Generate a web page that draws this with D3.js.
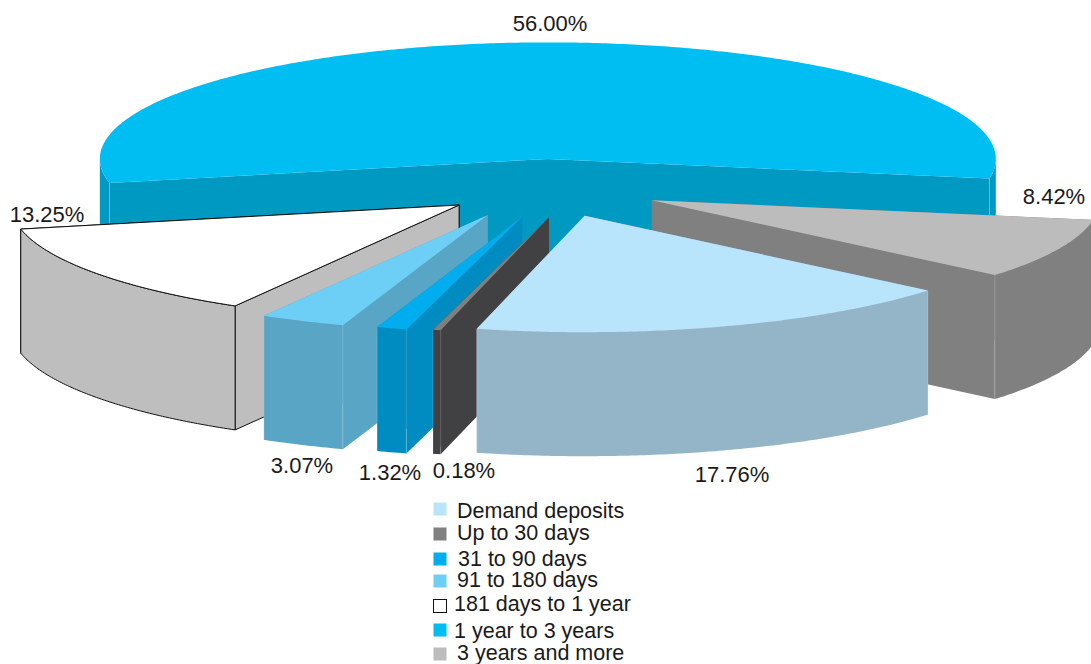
<!DOCTYPE html>
<html><head><meta charset="utf-8">
<script src="https://cdn.jsdelivr.net/npm/d3@7/dist/d3.min.js"></script>
<style>html,body{margin:0;padding:0;background:#fff}svg{display:block}text{font-family:"Liberation Sans",Arial,sans-serif;fill:#1a1a1a}</style>
</head><body><svg id="c" width="1091" height="664"></svg>
<script>
const categories = ["Demand deposits","Up to 30 days","31 to 90 days","91 to 180 days","181 days to 1 year","1 year to 3 years","3 years and more"];
const values = [17.76,0.18,1.32,3.07,13.25,56.00,8.42];
const topColors = ["#b8e5fb","#808080","#00aeef","#6dcff6","#ffffff","#00bdf2","#bcbcbc"];
const sideColors = ["#94b5c8","#414042","#008cc0","#58a5c6","#bebebe","#0099c2","#808080"];
const paintOrder = [5,6,4,3,2,1,0];
const labelPos = [[732,474],[464,470],[390,472],[302,465],[47,214],[550,23],[1054,196]];
const legendRows = [[440,509,457,511],[440,534,457,533],[440,559,458,559],[440,581,457,580],[440,606,454,604],[440,630,454,631],[440,654,457,653]];
// the small wedges of the original were pulled out by hand: extra apex shift (px) and edge trim (degrees)
const apexNudge = [[0,0],[26.6,1],[5,1],[-15,0.5],[0,0],[0,0],[0,0]];
const edgeTrim = [[0,0],[0.06,0.42],[0.42,-0.44],[-0.44,-0.39],[-0.39,0],[0,0],[0,0]];

const cx=550, cy=188, rx=448, ry=116.5, depth=124, explode=0.25, labelSize=22, legendSize=21.5;
const svg=d3.select("#c");
const pie=d3.pie().sort(null).startAngle(130*Math.PI/180).endAngle(490*Math.PI/180);
const arcs=pie(values);
const line=d3.line();
const rad=Math.PI/180;

arcs.forEach((d,i)=>{
  const mid=(d.startAngle+d.endAngle)/2;
  d.ax=cx+explode*rx*Math.sin(mid)+apexNudge[i][0];
  d.ay=cy-explode*ry*Math.cos(mid)+apexNudge[i][1];
  d.a0=d.startAngle+edgeTrim[i][0]*rad;
  d.a1=d.endAngle+edgeTrim[i][1]*rad;
  d.pt=(t,z=0)=>[d.ax+rx*Math.sin(t), d.ay-ry*Math.cos(t)+z];
});
function samples(a,b){const n=Math.max(2,Math.ceil((b-a)/0.01));return d3.range(n+1).map(k=>a+(b-a)*k/n);}
function frontRanges(a,b){
  const out=[];
  for(let k=-1;k<=2;k++){
    const lo=Math.max(a,Math.PI/2+2*Math.PI*k), hi=Math.min(b,3*Math.PI/2+2*Math.PI*k);
    if(hi>lo) out.push([lo,hi]);
  }
  return out;
}
function ccw(p){return d3.polygonArea(p)<0?p.slice().reverse():p;}
paintOrder.forEach(i=>{
  const d=arcs[i], g=svg.append("g");
  const isOutlined=topColors[i]==="#ffffff";
  const stroke=isOutlined?"#111":"none", sw=isOutlined?1:0;
  const apex=[d.ax,d.ay], apexB=[d.ax,d.ay+depth];
  const wall=t=>ccw([apex,d.pt(t),d.pt(t,depth),apexB]);
  if(isOutlined){
    [d.a1,d.a0].forEach(t=>{
      g.append("path").attr("d",line(wall(t))+"Z")
       .attr("fill",sideColors[i]).attr("stroke",stroke).attr("stroke-width",sw).attr("stroke-linejoin","round");
    });
  } else {
    g.append("path").attr("d",line(wall(d.a1))+"Z"+line(wall(d.a0))+"Z")
     .attr("fill",sideColors[i]);
  }
  frontRanges(d.a0,d.a1).forEach(([a,b])=>{
    const s=samples(a,b);
    const poly=s.map(t=>d.pt(t)).concat(s.slice().reverse().map(t=>d.pt(t,depth)));
    g.append("path").attr("d",line(poly)+"Z")
     .attr("fill",sideColors[i]).attr("stroke",stroke).attr("stroke-width",sw).attr("stroke-linejoin","round");
  });
  if(!isOutlined){
    [d.a0,d.a1].forEach(t=>{
      const tt=((t%(2*Math.PI))+2*Math.PI)%(2*Math.PI);
      if(tt>Math.PI/2&&tt<3*Math.PI/2){
        g.append("path").attr("d",line([d.pt(t),d.pt(t,depth)]))
         .attr("stroke","#fff").attr("stroke-opacity",.18).attr("stroke-width",1).attr("fill","none");
      }
    });
  }
  const s=samples(d.a0,d.a1);
  g.append("path").attr("d",line([apex,...s.map(t=>d.pt(t))])+"Z")
   .attr("fill",topColors[i]).attr("stroke",stroke).attr("stroke-width",sw).attr("stroke-linejoin","round");
});

const fmt=d3.format(".2f");
svg.append("g").selectAll("text").data(values).join("text")
  .attr("x",(d,i)=>labelPos[i][0]).attr("y",(d,i)=>labelPos[i][1])
  .attr("text-anchor","middle").attr("dominant-baseline","central")
  .attr("font-size",labelSize).text(d=>fmt(d)+"%");

const lg=svg.append("g");
categories.forEach((c,i)=>{
  const [sx,sy,tx,ty]=legendRows[i];
  lg.append("rect").attr("x",sx-6.5).attr("y",sy-6.5).attr("width",13).attr("height",13)
    .attr("fill",topColors[i])
    .attr("stroke",topColors[i]==="#ffffff"?"#111":"none").attr("stroke-width",1);
  lg.append("text").attr("x",tx).attr("y",ty).attr("dominant-baseline","central")
    .attr("font-size",legendSize).text(c);
});
</script></body></html>
